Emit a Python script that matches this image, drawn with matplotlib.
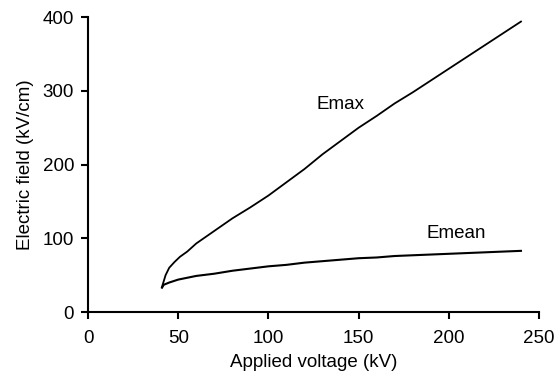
import matplotlib
matplotlib.use("Agg")
import matplotlib.pyplot as plt

plt.rcParams['font.family'] = ['Liberation Sans', 'DejaVu Sans']

voltage_max = [41, 42, 43, 45, 48, 51, 55, 60, 70, 80, 90, 100, 110, 120, 130, 140,
               150, 160, 170, 180, 190, 200, 210, 220, 230, 240]
emax = [34, 42, 50, 60, 68, 75, 82, 93, 110, 127, 142, 158, 176, 194, 214, 232,
        250, 266, 283, 298, 314, 330, 346, 362, 378, 394]

voltage_mean = [41, 42, 45, 50, 60, 70, 80, 90, 100, 110, 120, 130, 140, 150, 160,
                170, 180, 190, 200, 210, 220, 230, 240]
emean = [33, 37, 40, 44, 49, 52, 56, 59, 62, 64, 67, 69, 71, 73, 74,
         76, 77, 78, 79, 80, 81, 82, 83]

x_ticks = [0, 50, 100, 150, 200, 250]
y_ticks = [0, 100, 200, 300, 400]

fig = plt.figure(figsize=(5.57, 3.81), dpi=100)
ax = fig.add_axes([0.158, 0.181, 0.8097, 0.774])

ax.plot(voltage_max, emax, color='black', lw=1.3)
ax.plot(voltage_mean, emean, color='black', lw=1.5)

ax.text(140, 281, 'Emax', fontsize=13.5, ha='center', va='center')
ax.text(204, 106, 'Emean', fontsize=13.5, ha='center', va='center')

ax.set_xlim(0, 250)
ax.set_ylim(0, 400)
ax.set_xticks(x_ticks)
ax.set_yticks(y_ticks)
ax.tick_params(direction='out', length=5, width=1.5, labelsize=13.5)
ax.tick_params(axis='x', pad=8)
ax.tick_params(axis='y', pad=5)
for s in ['top', 'right']:
    ax.spines[s].set_visible(False)
for s in ['left', 'bottom']:
    ax.spines[s].set_linewidth(1.5)

ax.set_xlabel('Applied voltage (kV)', fontsize=13.5, labelpad=5)
ax.set_ylabel('Electric field (kV/cm)', fontsize=13.5, labelpad=6)

fig.savefig('out.png', dpi=100)
